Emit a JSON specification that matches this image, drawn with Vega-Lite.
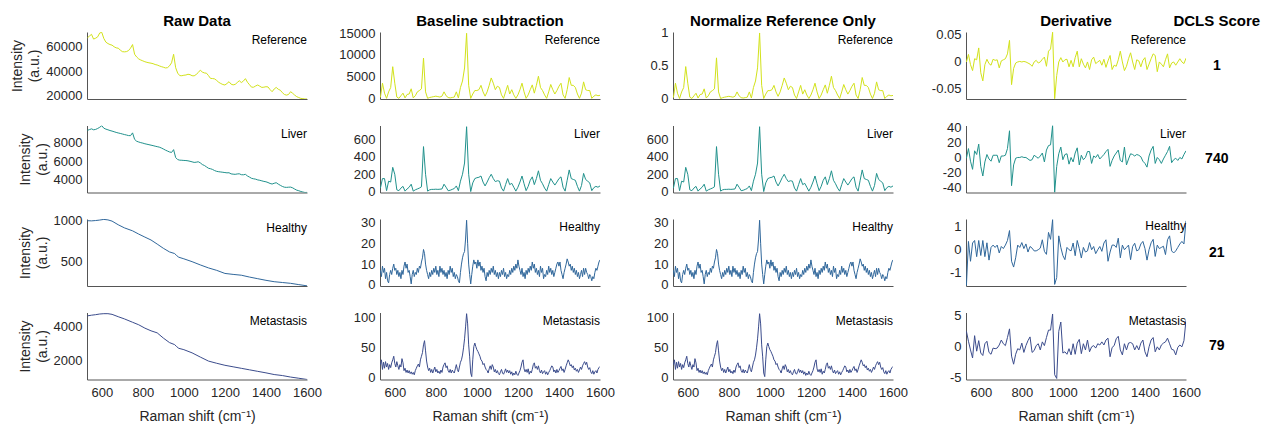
{
"$schema":"https://vega.github.io/schema/vega-lite/v6.json",
"padding":{"left":10,"top":4.5,"right":0,"bottom":0},
"autosize":{"type":"pad"},
"datasets":{
"g10":[
{"x":530,"Ra":67500,"La":9320,"Rb":200,"Rn":0.013,"Lb":40,"Rd":0,"Ld":-1,"Hd":-1.55,"Md":2.5},
{"x":540,"Ra":69000,"La":9400,"Rb":3500,"Rn":0.233,"Lb":150,"Rd":0.014,"Ld":12,"Hd":0.36,"Md":0.9},
{"x":550,"Ra":70400,"La":9480,"Rb":1200,"Rn":0.08,"Lb":150,"Rd":-0.005,"Ld":-5,"Hd":-0.5,"Md":-0.5},
{"x":560,"Ra":66500,"La":9380,"Rb":0,"Rn":0,"Lb":10,"Rd":-0.016,"Ld":-16,"Hd":0.29,"Md":-1.8},
{"x":570,"Ra":67200,"La":9420,"Rb":1500,"Rn":0.1,"Lb":120,"Rd":0.006,"Ld":9,"Hd":0.4,"Md":1.8},
{"x":580,"Ra":68300,"La":9520,"Rb":2500,"Rn":0.167,"Lb":110,"Rd":0.004,"Ld":4,"Hd":-0.3,"Md":-0.7},
{"x":590,"Ra":71500,"La":9650,"Rb":7300,"Rn":0.487,"Lb":280,"Rd":0.026,"Ld":18,"Hd":0.4,"Md":1.0},
{"x":600,"Ra":72000,"La":9820,"Rb":3500,"Rn":0.233,"Lb":200,"Rd":-0.02,"Ld":-12,"Hd":-0.25,"Md":-1.0},
{"x":610,"Ra":67000,"La":9550,"Rb":300,"Rn":0.02,"Lb":20,"Rd":-0.035,"Ld":-25,"Hd":0.4,"Md":-1.4},
{"x":620,"Ra":64000,"La":9450,"Rb":0,"Rn":0,"Lb":10,"Rd":-0.005,"Ld":-6,"Hd":-0.3,"Md":0.5},
{"x":630,"Ra":62800,"La":9380,"Rb":600,"Rn":0.04,"Lb":40,"Rd":0.005,"Ld":4,"Hd":0.3,"Md":0.9},
{"x":640,"Ra":62000,"La":9300,"Rb":1200,"Rn":0.08,"Lb":60,"Rd":-0.003,"Ld":-2,"Hd":-0.45,"Md":-0.9},
{"x":650,"Ra":61500,"La":9240,"Rb":100,"Rn":0.007,"Lb":5,"Rd":-0.006,"Ld":-5,"Hd":0.1,"Md":-1.2},
{"x":660,"Ra":60200,"La":9170,"Rb":900,"Rn":0.06,"Lb":30,"Rd":0.005,"Ld":3,"Hd":0.2,"Md":-0.2},
{"x":670,"Ra":59300,"La":9100,"Rb":1000,"Rn":0.067,"Lb":50,"Rd":0.003,"Ld":3,"Hd":0.1,"Md":-0.3},
{"x":680,"Ra":59000,"La":9040,"Rb":2200,"Rn":0.147,"Lb":85,"Rd":0.004,"Ld":3,"Hd":0.2,"Md":-0.2},
{"x":690,"Ra":57500,"La":8990,"Rb":100,"Rn":0.007,"Lb":5,"Rd":-0.011,"Ld":-7,"Hd":-0.14,"Md":0.3},
{"x":700,"Ra":56200,"La":8930,"Rb":600,"Rn":0.04,"Lb":20,"Rd":0.002,"Ld":2,"Hd":0.14,"Md":1.1},
{"x":710,"Ra":56000,"La":8870,"Rb":1500,"Rn":0.1,"Lb":30,"Rd":0.004,"Ld":2,"Hd":0.05,"Md":0.5},
{"x":720,"Ra":56200,"La":8820,"Rb":1800,"Rn":0.12,"Lb":40,"Rd":0.006,"Ld":3,"Hd":0.2,"Md":0.2},
{"x":730,"Ra":57000,"La":8760,"Rb":2200,"Rn":0.147,"Lb":55,"Rd":0.015,"Ld":12,"Hd":0.4,"Md":1.5},
{"x":740,"Ra":59000,"La":8750,"Rb":9300,"Rn":0.62,"Lb":520,"Rd":0.04,"Ld":36,"Hd":0.83,"Md":2.9},
{"x":750,"Ra":62000,"La":9050,"Rb":1500,"Rn":0.1,"Lb":200,"Rd":-0.042,"Ld":-38,"Hd":-0.5,"Md":-1.5},
{"x":760,"Ra":54000,"La":8350,"Rb":0,"Rn":0,"Lb":5,"Rd":-0.012,"Ld":-10,"Hd":-0.75,"Md":-2.8},
{"x":770,"Ra":51800,"La":8150,"Rb":200,"Rn":0.013,"Lb":20,"Rd":-0.002,"Ld":-1,"Hd":-0.35,"Md":-1.2},
{"x":780,"Ra":50200,"La":8070,"Rb":300,"Rn":0.02,"Lb":25,"Rd":0,"Ld":0,"Hd":0.2,"Md":-0.3},
{"x":790,"Ra":49300,"La":8000,"Rb":400,"Rn":0.027,"Lb":25,"Rd":0.001,"Ld":0,"Hd":0.1,"Md":-0.5},
{"x":800,"Ra":48600,"La":7950,"Rb":500,"Rn":0.033,"Lb":27,"Rd":0,"Ld":1,"Hd":0.31,"Md":0.6},
{"x":810,"Ra":47900,"La":7880,"Rb":400,"Rn":0.027,"Lb":25,"Rd":0.001,"Ld":0,"Hd":0.05,"Md":-0.9},
{"x":820,"Ra":47400,"La":7830,"Rb":300,"Rn":0.02,"Lb":27,"Rd":0,"Ld":0,"Hd":0.25,"Md":0.2},
{"x":830,"Ra":47000,"La":7780,"Rb":500,"Rn":0.033,"Lb":30,"Rd":-0.002,"Ld":-2,"Hd":-0.1,"Md":1.0},
{"x":840,"Ra":46700,"La":7730,"Rb":1500,"Rn":0.1,"Lb":85,"Rd":-0.004,"Ld":-4,"Hd":0.14,"Md":1.6},
{"x":850,"Ra":46300,"La":7680,"Rb":600,"Rn":0.04,"Lb":50,"Rd":-0.008,"Ld":-3,"Hd":0.07,"Md":-0.9},
{"x":860,"Ra":45600,"La":7620,"Rb":200,"Rn":0.013,"Lb":10,"Rd":0,"Ld":3,"Hd":-0.05,"Md":-0.6},
{"x":870,"Ra":45200,"La":7570,"Rb":100,"Rn":0.007,"Lb":15,"Rd":0.003,"Ld":1,"Hd":-0.05,"Md":0.2},
{"x":880,"Ra":44500,"La":7520,"Rb":200,"Rn":0.013,"Lb":25,"Rd":-0.002,"Ld":-1,"Hd":0,"Md":0.5},
{"x":890,"Ra":43900,"La":7430,"Rb":300,"Rn":0.02,"Lb":35,"Rd":0,"Ld":2,"Hd":0.07,"Md":-0.5},
{"x":900,"Ra":43400,"La":7320,"Rb":1500,"Rn":0.1,"Lb":65,"Rd":0.005,"Ld":6,"Hd":0.43,"Md":0.8},
{"x":910,"Ra":42800,"La":7200,"Rb":100,"Rn":0.007,"Lb":10,"Rd":0.009,"Ld":-6,"Hd":-0.07,"Md":0.2},
{"x":920,"Ra":43000,"La":7100,"Rb":2500,"Rn":0.167,"Lb":120,"Rd":-0.008,"Ld":10,"Hd":-0.2,"Md":1.5},
{"x":930,"Ra":44500,"La":7000,"Rb":4000,"Rn":0.267,"Lb":200,"Rd":0.02,"Ld":16,"Hd":0.75,"Md":2.7},
{"x":940,"Ra":47000,"La":6950,"Rb":7000,"Rn":0.467,"Lb":330,"Rd":0.024,"Ld":17,"Hd":0.45,"Md":2.7},
{"x":950,"Ra":54000,"La":7250,"Rb":15000,"Rn":1,"Lb":750,"Rd":0.055,"Ld":43,"Hd":1.3,"Md":5.3},
{"x":960,"Ra":43000,"La":6400,"Rb":3000,"Rn":0.2,"Lb":200,"Rd":-0.068,"Ld":-47,"Hd":-1.5,"Md":-4.5},
{"x":970,"Ra":38500,"La":6180,"Rb":0,"Rn":0,"Lb":0,"Rd":-0.025,"Ld":-12,"Hd":-1.2,"Md":-5.1},
{"x":980,"Ra":36500,"La":6120,"Rb":1000,"Rn":0.067,"Lb":100,"Rd":0,"Ld":5,"Hd":0.6,"Md":2.5},
{"x":990,"Ra":36400,"La":6110,"Rb":1800,"Rn":0.12,"Lb":150,"Rd":0.008,"Ld":14,"Hd":0.1,"Md":4.0},
{"x":1000,"Ra":36800,"La":6090,"Rb":1800,"Rn":0.12,"Lb":160,"Rd":0,"Ld":-3,"Hd":-0.25,"Md":-1.0},
{"x":1010,"Ra":37000,"La":6080,"Rb":2000,"Rn":0.133,"Lb":165,"Rd":0.004,"Ld":4,"Hd":-0.43,"Md":-0.8},
{"x":1020,"Ra":37600,"La":6050,"Rb":3000,"Rn":0.2,"Lb":180,"Rd":0.005,"Ld":5,"Hd":0.1,"Md":-1.2},
{"x":1030,"Ra":37300,"La":6000,"Rb":1500,"Rn":0.1,"Lb":110,"Rd":-0.009,"Ld":-9,"Hd":0,"Md":-0.3},
{"x":1040,"Ra":36400,"La":5940,"Rb":500,"Rn":0.033,"Lb":65,"Rd":0.003,"Ld":0,"Hd":-0.05,"Md":-1.3},
{"x":1050,"Ra":36300,"La":5880,"Rb":1500,"Rn":0.1,"Lb":110,"Rd":-0.009,"Ld":-6,"Hd":0.29,"Md":0.5},
{"x":1060,"Ra":37400,"La":5900,"Rb":3000,"Rn":0.2,"Lb":160,"Rd":0.008,"Ld":6,"Hd":-0.26,"Md":-1.2},
{"x":1070,"Ra":39000,"La":5950,"Rb":4700,"Rn":0.313,"Lb":200,"Rd":0.02,"Ld":13,"Hd":0.4,"Md":0.6},
{"x":1080,"Ra":41000,"La":5830,"Rb":3500,"Rn":0.233,"Lb":150,"Rd":-0.009,"Ld":-10,"Hd":0.05,"Md":1.2},
{"x":1090,"Ra":39400,"La":5650,"Rb":2000,"Rn":0.133,"Lb":115,"Rd":0.006,"Ld":3,"Hd":-0.36,"Md":-1.1},
{"x":1100,"Ra":38700,"La":5550,"Rb":2800,"Rn":0.187,"Lb":125,"Rd":-0.004,"Ld":-3,"Hd":0.1,"Md":0.5},
{"x":1110,"Ra":38500,"La":5400,"Rb":2500,"Rn":0.167,"Lb":120,"Rd":-0.011,"Ld":0,"Hd":-0.1,"Md":-0.5},
{"x":1120,"Ra":36500,"La":5250,"Rb":800,"Rn":0.053,"Lb":40,"Rd":0,"Ld":8,"Hd":-0.05,"Md":1.1},
{"x":1130,"Ra":34200,"La":5200,"Rb":0,"Rn":0,"Lb":5,"Rd":-0.014,"Ld":8,"Hd":0.31,"Md":-0.8},
{"x":1140,"Ra":34100,"La":5120,"Rb":1500,"Rn":0.1,"Lb":80,"Rd":0.004,"Ld":-8,"Hd":0,"Md":0},
{"x":1150,"Ra":33800,"La":5000,"Rb":3000,"Rn":0.2,"Lb":150,"Rd":0.009,"Ld":2,"Hd":0.14,"Md":0.2},
{"x":1160,"Ra":32500,"La":4920,"Rb":1000,"Rn":0.067,"Lb":80,"Rd":-0.003,"Ld":0,"Hd":-0.17,"Md":-0.2},
{"x":1170,"Ra":31000,"La":4880,"Rb":2000,"Rn":0.133,"Lb":95,"Rd":0,"Ld":4,"Hd":0,"Md":0.5},
{"x":1180,"Ra":30000,"La":4850,"Rb":800,"Rn":0.053,"Lb":50,"Rd":0.003,"Ld":-2,"Hd":0.14,"Md":0.3},
{"x":1190,"Ra":29200,"La":4820,"Rb":0,"Rn":0,"Lb":5,"Rd":-0.006,"Ld":1,"Hd":-0.07,"Md":0.8},
{"x":1200,"Ra":28800,"La":4790,"Rb":800,"Rn":0.053,"Lb":50,"Rd":0.005,"Ld":4,"Hd":0.29,"Md":0.3},
{"x":1210,"Ra":30000,"La":4760,"Rb":2000,"Rn":0.133,"Lb":110,"Rd":-0.01,"Ld":8,"Hd":0.43,"Md":1.1},
{"x":1220,"Ra":31500,"La":4770,"Rb":3500,"Rn":0.233,"Lb":180,"Rd":0.002,"Ld":11,"Hd":-0.5,"Md":1.4},
{"x":1230,"Ra":29500,"La":4650,"Rb":1500,"Rn":0.1,"Lb":90,"Rd":0.012,"Ld":-12,"Hd":-0.1,"Md":-1.6},
{"x":1240,"Ra":28900,"La":4620,"Rb":0,"Rn":0,"Lb":10,"Rd":-0.014,"Ld":-4,"Hd":0.2,"Md":-0.1},
{"x":1250,"Ra":29300,"La":4600,"Rb":800,"Rn":0.053,"Lb":60,"Rd":-0.006,"Ld":2,"Hd":0.2,"Md":0.2},
{"x":1260,"Ra":30800,"La":4640,"Rb":2000,"Rn":0.133,"Lb":130,"Rd":-0.008,"Ld":6,"Hd":0.1,"Md":1.3},
{"x":1270,"Ra":32300,"La":4660,"Rb":3100,"Rn":0.207,"Lb":170,"Rd":0.004,"Ld":10,"Hd":0.5,"Md":1.7},
{"x":1280,"Ra":30800,"La":4560,"Rb":1200,"Rn":0.08,"Lb":80,"Rd":0.02,"Ld":-4,"Hd":-0.35,"Md":-0.5},
{"x":1290,"Ra":32000,"La":4550,"Rb":3000,"Rn":0.2,"Lb":150,"Rd":0,"Ld":-6,"Hd":0.2,"Md":-1.3},
{"x":1300,"Ra":34000,"La":4600,"Rb":5100,"Rn":0.34,"Lb":240,"Rd":-0.016,"Ld":14,"Hd":0,"Md":0.5},
{"x":1310,"Ra":31000,"La":4420,"Rb":2500,"Rn":0.167,"Lb":130,"Rd":-0.008,"Ld":-10,"Hd":0.1,"Md":-0.5},
{"x":1320,"Ra":29000,"La":4300,"Rb":1800,"Rn":0.12,"Lb":90,"Rd":0.006,"Ld":-2,"Hd":0.2,"Md":0.6},
{"x":1330,"Ra":27000,"La":4170,"Rb":800,"Rn":0.053,"Lb":40,"Rd":0.017,"Ld":5,"Hd":-0.43,"Md":0.7},
{"x":1340,"Ra":27000,"La":4120,"Rb":0,"Rn":0,"Lb":5,"Rd":0,"Ld":4,"Hd":0.14,"Md":0.5},
{"x":1350,"Ra":28000,"La":4080,"Rb":1500,"Rn":0.1,"Lb":80,"Rd":-0.014,"Ld":2,"Hd":0.28,"Md":-0.5},
{"x":1360,"Ra":28800,"La":4000,"Rb":3200,"Rn":0.213,"Lb":150,"Rd":0.004,"Ld":4,"Hd":-0.05,"Md":0.2},
{"x":1370,"Ra":27800,"La":3960,"Rb":2000,"Rn":0.133,"Lb":110,"Rd":0.002,"Ld":3,"Hd":0,"Md":-0.5},
{"x":1380,"Ra":26800,"La":3900,"Rb":1000,"Rn":0.067,"Lb":75,"Rd":-0.009,"Ld":1,"Hd":0.25,"Md":0.6},
{"x":1390,"Ra":27000,"La":3840,"Rb":1800,"Rn":0.12,"Lb":110,"Rd":0.003,"Ld":-5,"Hd":0.36,"Md":1.1},
{"x":1400,"Ra":27400,"La":3800,"Rb":2800,"Rn":0.187,"Lb":150,"Rd":0.008,"Ld":-8,"Hd":0.05,"Md":-0.8},
{"x":1410,"Ra":27200,"La":3720,"Rb":3500,"Rn":0.233,"Lb":170,"Rd":-0.014,"Ld":-13,"Hd":-0.45,"Md":-1.6},
{"x":1420,"Ra":25000,"La":3620,"Rb":800,"Rn":0.053,"Lb":50,"Rd":-0.004,"Ld":2,"Hd":0,"Md":0},
{"x":1430,"Ra":23300,"La":3560,"Rb":0,"Rn":0,"Lb":5,"Rd":0.006,"Ld":10,"Hd":0.3,"Md":1.1},
{"x":1440,"Ra":25500,"La":3640,"Rb":2000,"Rn":0.133,"Lb":130,"Rd":0.015,"Ld":15,"Hd":0.45,"Md":1.5},
{"x":1450,"Ra":26800,"La":3700,"Rb":4800,"Rn":0.32,"Lb":250,"Rd":0.012,"Ld":-8,"Hd":-0.29,"Md":-0.8},
{"x":1460,"Ra":25300,"La":3550,"Rb":3000,"Rn":0.2,"Lb":150,"Rd":-0.018,"Ld":0,"Hd":0.2,"Md":0},
{"x":1470,"Ra":24500,"La":3420,"Rb":3000,"Rn":0.2,"Lb":140,"Rd":0,"Ld":-3,"Hd":0.05,"Md":-0.5},
{"x":1480,"Ra":22500,"La":3300,"Rb":2500,"Rn":0.167,"Lb":130,"Rd":-0.004,"Ld":-8,"Hd":0.1,"Md":0.3},
{"x":1490,"Ra":21000,"La":3220,"Rb":1000,"Rn":0.067,"Lb":60,"Rd":-0.009,"Ld":-2,"Hd":0.15,"Md":0.6},
{"x":1500,"Ra":20500,"La":3200,"Rb":0,"Rn":0,"Lb":5,"Rd":0.004,"Ld":3,"Hd":-0.21,"Md":0.8},
{"x":1510,"Ra":21000,"La":3220,"Rb":1200,"Rn":0.08,"Lb":70,"Rd":0.015,"Ld":8,"Hd":0.43,"Md":1.4},
{"x":1520,"Ra":23300,"La":3230,"Rb":3800,"Rn":0.253,"Lb":210,"Rd":-0.011,"Ld":15,"Hd":0.6,"Md":0.5},
{"x":1530,"Ra":22000,"La":3150,"Rb":2000,"Rn":0.133,"Lb":140,"Rd":-0.002,"Ld":-7,"Hd":-0.05,"Md":-0.4},
{"x":1540,"Ra":20500,"La":3020,"Rb":1800,"Rn":0.12,"Lb":120,"Rd":0,"Ld":-3,"Hd":-0.14,"Md":-0.5},
{"x":1550,"Ra":19200,"La":2900,"Rb":1800,"Rn":0.12,"Lb":100,"Rd":-0.006,"Ld":-1,"Hd":-0.05,"Md":-1.3},
{"x":1560,"Ra":18500,"La":2840,"Rb":0,"Rn":0,"Lb":10,"Rd":0,"Ld":-4,"Hd":0.1,"Md":-0.1},
{"x":1570,"Ra":17800,"La":2760,"Rb":500,"Rn":0.033,"Lb":45,"Rd":0.006,"Ld":0,"Hd":0.25,"Md":0.3},
{"x":1580,"Ra":17600,"La":2700,"Rb":800,"Rn":0.053,"Lb":60,"Rd":0,"Ld":-2,"Hd":0.36,"Md":0},
{"x":1590,"Ra":17300,"La":2650,"Rb":600,"Rn":0.04,"Lb":50,"Rd":-0.003,"Ld":4,"Hd":0.25,"Md":1.0},
{"x":1600,"Ra":17300,"La":2660,"Rb":700,"Rn":0.047,"Lb":65,"Rd":0.007,"Ld":9,"Hd":1.25,"Md":4.3}
],
"g5":[
{"x":530,"Hb":7,"Mb":22},{"x":535,"Hb":4,"Mb":30},{"x":540,"Hb":9,"Mb":14},{"x":545,"Hb":6,"Mb":26},{"x":550,"Hb":8,"Mb":16},{"x":555,"Hb":3,"Mb":27},{"x":560,"Hb":6,"Mb":18},{"x":565,"Hb":2,"Mb":24},{"x":570,"Hb":1,"Mb":14},{"x":575,"Hb":5,"Mb":22},
{"x":580,"Hb":7,"Mb":17},{"x":585,"Hb":5,"Mb":25},{"x":590,"Hb":8,"Mb":30},{"x":595,"Hb":10,"Mb":36},{"x":600,"Hb":7,"Mb":24},{"x":605,"Hb":8,"Mb":18},{"x":610,"Hb":5,"Mb":27},{"x":615,"Hb":7,"Mb":20},{"x":620,"Hb":4,"Mb":14},{"x":625,"Hb":6,"Mb":22},
{"x":630,"Hb":3,"Mb":18},{"x":635,"Hb":7,"Mb":32},{"x":640,"Hb":5,"Mb":25},{"x":645,"Hb":9,"Mb":12},{"x":650,"Hb":11,"Mb":16},{"x":655,"Hb":8,"Mb":9},{"x":660,"Hb":10,"Mb":13},{"x":665,"Hb":6,"Mb":8},{"x":670,"Hb":7,"Mb":12},{"x":675,"Hb":4,"Mb":7},
{"x":680,"Hb":0.5,"Mb":10},{"x":685,"Hb":5,"Mb":6},{"x":690,"Hb":7,"Mb":9},{"x":695,"Hb":4,"Mb":5},{"x":700,"Hb":6,"Mb":12},{"x":705,"Hb":5,"Mb":16},{"x":710,"Hb":8,"Mb":20},{"x":715,"Hb":6,"Mb":23},{"x":720,"Hb":9,"Mb":18},{"x":725,"Hb":8,"Mb":30},
{"x":730,"Hb":11,"Mb":36},{"x":735,"Hb":13,"Mb":42},{"x":740,"Hb":17,"Mb":55},{"x":745,"Hb":15,"Mb":62},{"x":750,"Hb":10,"Mb":45},{"x":755,"Hb":7,"Mb":28},{"x":760,"Hb":5,"Mb":18},{"x":765,"Hb":3,"Mb":12},{"x":770,"Hb":6,"Mb":16},{"x":775,"Hb":4,"Mb":9},
{"x":780,"Hb":7,"Mb":14},{"x":785,"Hb":5,"Mb":8},{"x":790,"Hb":8,"Mb":13},{"x":795,"Hb":6,"Mb":18},{"x":800,"Hb":9,"Mb":10},{"x":805,"Hb":5,"Mb":14},{"x":810,"Hb":7,"Mb":8},{"x":815,"Hb":4,"Mb":11},{"x":820,"Hb":9,"Mb":7},{"x":825,"Hb":6,"Mb":13},
{"x":830,"Hb":8,"Mb":9},{"x":835,"Hb":5,"Mb":18},{"x":840,"Hb":7,"Mb":22},{"x":845,"Hb":4,"Mb":25},{"x":850,"Hb":6,"Mb":17},{"x":855,"Hb":3,"Mb":20},{"x":860,"Hb":7,"Mb":12},{"x":865,"Hb":5,"Mb":9},{"x":870,"Hb":9,"Mb":14},{"x":875,"Hb":6,"Mb":8},
{"x":880,"Hb":8,"Mb":13},{"x":885,"Hb":4,"Mb":10},{"x":890,"Hb":6,"Mb":8},{"x":895,"Hb":3,"Mb":15},{"x":900,"Hb":5,"Mb":22},{"x":905,"Hb":4,"Mb":14},{"x":910,"Hb":2,"Mb":10},{"x":915,"Hb":1,"Mb":18},{"x":920,"Hb":6,"Mb":26},{"x":925,"Hb":10,"Mb":30},
{"x":930,"Hb":13,"Mb":38},{"x":935,"Hb":15,"Mb":50},{"x":940,"Hb":16,"Mb":65},{"x":945,"Hb":22,"Mb":85},{"x":950,"Hb":31,"Mb":107},{"x":955,"Hb":20,"Mb":90},{"x":960,"Hb":10,"Mb":55},{"x":965,"Hb":5,"Mb":35},{"x":970,"Hb":0.5,"Mb":8},{"x":975,"Hb":5,"Mb":2},
{"x":980,"Hb":9,"Mb":30},{"x":985,"Hb":12,"Mb":52},{"x":990,"Hb":10,"Mb":58},{"x":995,"Hb":11,"Mb":52},{"x":1000,"Hb":8,"Mb":47},{"x":1005,"Hb":12,"Mb":44},{"x":1010,"Hb":9,"Mb":40},{"x":1015,"Hb":11,"Mb":36},{"x":1020,"Hb":7,"Mb":30},{"x":1025,"Hb":9,"Mb":28},
{"x":1030,"Hb":6,"Mb":22},{"x":1035,"Hb":8,"Mb":24},{"x":1040,"Hb":4,"Mb":18},{"x":1045,"Hb":2,"Mb":14},{"x":1050,"Hb":6,"Mb":12},{"x":1055,"Hb":4,"Mb":8},{"x":1060,"Hb":7,"Mb":15},{"x":1065,"Hb":5,"Mb":20},{"x":1070,"Hb":8,"Mb":14},{"x":1075,"Hb":6,"Mb":22},
{"x":1080,"Hb":9,"Mb":18},{"x":1085,"Hb":5,"Mb":10},{"x":1090,"Hb":7,"Mb":14},{"x":1095,"Hb":4,"Mb":8},{"x":1100,"Hb":6,"Mb":12},{"x":1105,"Hb":3,"Mb":7},{"x":1110,"Hb":6,"Mb":5},{"x":1115,"Hb":4,"Mb":10},{"x":1120,"Hb":7,"Mb":14},{"x":1125,"Hb":5,"Mb":8},
{"x":1130,"Hb":8,"Mb":6},{"x":1135,"Hb":4,"Mb":10},{"x":1140,"Hb":6,"Mb":15},{"x":1145,"Hb":3,"Mb":9},{"x":1150,"Hb":5,"Mb":13},{"x":1155,"Hb":4,"Mb":8},{"x":1160,"Hb":7,"Mb":12},{"x":1165,"Hb":5,"Mb":6},{"x":1170,"Hb":8,"Mb":10},{"x":1175,"Hb":6,"Mb":4},
{"x":1180,"Hb":9,"Mb":8},{"x":1185,"Hb":7,"Mb":5},{"x":1190,"Hb":10,"Mb":11},{"x":1195,"Hb":8,"Mb":6},{"x":1200,"Hb":12,"Mb":4},{"x":1205,"Hb":9,"Mb":8},{"x":1210,"Hb":7,"Mb":12},{"x":1215,"Hb":5,"Mb":18},{"x":1220,"Hb":8,"Mb":26},{"x":1225,"Hb":4,"Mb":30},
{"x":1230,"Hb":6,"Mb":15},{"x":1235,"Hb":3,"Mb":10},{"x":1240,"Hb":7,"Mb":14},{"x":1245,"Hb":5,"Mb":9},{"x":1250,"Hb":8,"Mb":15},{"x":1255,"Hb":6,"Mb":6},{"x":1260,"Hb":9,"Mb":11},{"x":1265,"Hb":7,"Mb":8},{"x":1270,"Hb":11,"Mb":14},{"x":1275,"Hb":8,"Mb":22},
{"x":1280,"Hb":10,"Mb":25},{"x":1285,"Hb":6,"Mb":16},{"x":1290,"Hb":8,"Mb":19},{"x":1295,"Hb":5,"Mb":14},{"x":1300,"Hb":7,"Mb":20},{"x":1305,"Hb":4,"Mb":12},{"x":1310,"Hb":9,"Mb":8},{"x":1315,"Hb":6,"Mb":13},{"x":1320,"Hb":8,"Mb":7},{"x":1325,"Hb":3,"Mb":10},
{"x":1330,"Hb":5,"Mb":12},{"x":1335,"Hb":4,"Mb":6},{"x":1340,"Hb":7,"Mb":10},{"x":1345,"Hb":5,"Mb":5},{"x":1350,"Hb":9,"Mb":9},{"x":1355,"Hb":6,"Mb":12},{"x":1360,"Hb":8,"Mb":16},{"x":1365,"Hb":5,"Mb":20},{"x":1370,"Hb":7,"Mb":18},{"x":1375,"Hb":4,"Mb":10},
{"x":1380,"Hb":6,"Mb":13},{"x":1385,"Hb":8,"Mb":8},{"x":1390,"Hb":10,"Mb":14},{"x":1395,"Hb":11,"Mb":9},{"x":1400,"Hb":9,"Mb":12},{"x":1405,"Hb":11,"Mb":16},{"x":1410,"Hb":7,"Mb":19},{"x":1415,"Hb":5,"Mb":12},{"x":1420,"Hb":3,"Mb":15},{"x":1425,"Hb":6,"Mb":9},
{"x":1430,"Hb":8,"Mb":14},{"x":1435,"Hb":10,"Mb":20},{"x":1440,"Hb":12.5,"Mb":25},{"x":1445,"Hb":11,"Mb":30},{"x":1450,"Hb":9,"Mb":26},{"x":1455,"Hb":10,"Mb":20},{"x":1460,"Hb":7,"Mb":22},{"x":1465,"Hb":9,"Mb":17},{"x":1470,"Hb":6,"Mb":20},{"x":1475,"Hb":8,"Mb":13},
{"x":1480,"Hb":5,"Mb":16},{"x":1485,"Hb":7,"Mb":11},{"x":1490,"Hb":4,"Mb":14},{"x":1495,"Hb":6,"Mb":9},{"x":1500,"Hb":3,"Mb":13},{"x":1505,"Hb":5,"Mb":18},{"x":1510,"Hb":7,"Mb":14},{"x":1515,"Hb":4,"Mb":20},{"x":1520,"Hb":8,"Mb":24},{"x":1525,"Hb":5,"Mb":27},
{"x":1530,"Hb":8,"Mb":22},{"x":1535,"Hb":6,"Mb":26},{"x":1540,"Hb":5,"Mb":18},{"x":1545,"Hb":3,"Mb":14},{"x":1550,"Hb":5,"Mb":17},{"x":1555,"Hb":4,"Mb":10},{"x":1560,"Hb":2,"Mb":7},{"x":1565,"Hb":4,"Mb":12},{"x":1570,"Hb":3,"Mb":6},{"x":1575,"Hb":6,"Mb":10},
{"x":1580,"Hb":8,"Mb":12},{"x":1585,"Hb":7,"Mb":8},{"x":1590,"Hb":9,"Mb":14},{"x":1595,"Hb":11,"Mb":17},{"x":1600,"Hb":12,"Mb":19}
],
"rhm":[
{"x":530,"Ha":1000,"Ma":4650},{"x":550,"Ha":998,"Ma":4690},{"x":570,"Ha":1002,"Ma":4720},{"x":590,"Ha":1008,"Ma":4760},{"x":610,"Ha":1016,"Ma":4780},{"x":630,"Ha":1010,"Ma":4780},{"x":650,"Ha":995,"Ma":4740},{"x":680,"Ha":950,"Ma":4600},{"x":710,"Ha":912,"Ma":4470},{"x":750,"Ha":875,"Ma":4270},
{"x":780,"Ha":835,"Ma":4120},{"x":810,"Ha":798,"Ma":3920},{"x":840,"Ha":762,"Ma":3760},{"x":870,"Ha":712,"Ma":3640},{"x":900,"Ha":660,"Ma":3330},{"x":930,"Ha":615,"Ma":3060},{"x":955,"Ha":595,"Ma":2940},{"x":965,"Ha":570,"Ma":2820},{"x":975,"Ha":550,"Ma":2720},{"x":1000,"Ha":530,"Ma":2640},
{"x":1040,"Ha":495,"Ma":2450},{"x":1080,"Ha":455,"Ma":2200},{"x":1120,"Ha":418,"Ma":1960},{"x":1160,"Ha":388,"Ma":1830},{"x":1200,"Ha":350,"Ma":1710},{"x":1240,"Ha":338,"Ma":1620},{"x":1280,"Ha":328,"Ma":1530},{"x":1320,"Ha":305,"Ma":1440},{"x":1360,"Ha":285,"Ma":1350},{"x":1400,"Ha":265,"Ma":1260},
{"x":1440,"Ha":248,"Ma":1160},{"x":1480,"Ha":238,"Ma":1100},{"x":1520,"Ha":228,"Ma":1010},{"x":1560,"Ha":212,"Ma":940},{"x":1600,"Ha":197,"Ma":866}
]
},
"concat":[
{"width":220,"height":1,"data":{"values":[{"t":"Raw Data"}]},"mark":{"type":"text","fontSize":15,"fontWeight":"bold","dy":15.5,"color":"#000000"},"encoding":{"text":{"field":"t"}}},
{"width":220,"height":1,"data":{"values":[{"t":"Baseline subtraction"}]},"mark":{"type":"text","fontSize":15,"fontWeight":"bold","dy":15.5,"color":"#000000"},"encoding":{"text":{"field":"t"}}},
{"width":220,"height":1,"data":{"values":[{"t":"Normalize Reference Only"}]},"mark":{"type":"text","fontSize":15,"fontWeight":"bold","dy":15.5,"color":"#000000"},"encoding":{"text":{"field":"t"}}},
{"width":220,"height":1,"layer":[
 {"data":{"values":[{"t":"Derivative"}]},"mark":{"type":"text","fontSize":15,"fontWeight":"bold","dy":15.5,"color":"#000000"},"encoding":{"text":{"field":"t"}}},
 {"data":{"values":[{"t":"DCLS Score"}]},"mark":{"type":"text","fontSize":15,"fontWeight":"bold","dy":15.5,"color":"#000000"},"encoding":{"text":{"field":"t"},"x":{"datum":1750,"type":"quantitative","scale":{"domain":[528,1600],"nice":false,"zero":false},"axis":null}}}
]},

{"width":220,"height":67,"data":{"name":"g10"},"title":{"text":"Reference","offset":-15},"mark":{"type":"line","color":"#d2e21b","strokeWidth":1,"clip":true},
"encoding":{"x":{"field":"x","type":"quantitative","scale":{"domain":[528,1600],"nice":false,"zero":false},"axis":{"labels":false,"title":null}},
"y":{"field":"Ra","type":"quantitative","scale":{"domain":[17300,72300],"nice":false,"zero":false},"axis":{"values":[20000,40000,60000],"format":"d","title":["Intensity","(a.u.)"]}}}},
{"width":220,"height":67,"data":{"name":"g10"},"title":{"text":"Reference","offset":-20},"mark":{"type":"line","color":"#d2e21b","strokeWidth":1,"clip":true},
"encoding":{"x":{"field":"x","type":"quantitative","scale":{"domain":[528,1600],"nice":false,"zero":false},"axis":{"labels":false,"title":null}},
"y":{"field":"Rb","type":"quantitative","scale":{"domain":[-150,15300],"nice":false,"zero":false},"axis":{"values":[0,5000,10000,15000],"format":"d","title":null}}}},
{"width":220,"height":67,"data":{"name":"g10"},"title":{"text":"Reference","offset":-20},"mark":{"type":"line","color":"#d2e21b","strokeWidth":1,"clip":true},
"encoding":{"x":{"field":"x","type":"quantitative","scale":{"domain":[528,1600],"nice":false,"zero":false},"axis":{"labels":false,"title":null}},
"y":{"field":"Rn","type":"quantitative","scale":{"domain":[-0.008,1.015],"nice":false,"zero":false},"axis":{"values":[0,0.5,1],"format":"~g","title":null}}}},
{"width":220,"height":67,"data":{"name":"g10"},"title":{"text":"Reference","offset":-18.5},
"layer":[
{"mark":{"type":"line","color":"#d2e21b","strokeWidth":1,"clip":true},
"encoding":{"x":{"field":"x","type":"quantitative","scale":{"domain":[528,1600],"nice":false,"zero":false},"axis":{"labels":false,"title":null}},
"y":{"field":"Rd","type":"quantitative","scale":{"domain":[-0.0686,0.0555],"nice":false,"zero":false},"axis":{"values":[-0.05,0,0.05],"format":"~g","title":null}}}},
{"data":{"values":[{"score":1}]},"mark":{"type":"text","fontSize":14,"fontWeight":"bold","color":"#000000"},"encoding":{"text":{"field":"score","type":"quantitative","format":"d"},"x":{"datum":1750,"type":"quantitative","axis":{"labels":false,"title":null}}}}
]},

{"width":220,"height":67,"data":{"name":"g10"},"title":{"text":"Liver","offset":-15},"mark":{"type":"line","color":"#21918c","strokeWidth":1,"clip":true},
"encoding":{"x":{"field":"x","type":"quantitative","scale":{"domain":[528,1600],"nice":false,"zero":false},"axis":{"labels":false,"title":null}},
"y":{"field":"La","type":"quantitative","scale":{"domain":[2650,9840],"nice":false,"zero":false},"axis":{"values":[4000,6000,8000],"format":"d","title":["Intensity","(a.u.)"]}}}},
{"width":220,"height":67,"data":{"name":"g10"},"title":{"text":"Liver","offset":-15},"mark":{"type":"line","color":"#21918c","strokeWidth":1,"clip":true},
"encoding":{"x":{"field":"x","type":"quantitative","scale":{"domain":[528,1600],"nice":false,"zero":false},"axis":{"labels":false,"title":null}},
"y":{"field":"Lb","type":"quantitative","scale":{"domain":[-11,764],"nice":false,"zero":false},"axis":{"values":[0,200,400,600],"format":"d","title":null}}}},
{"width":220,"height":67,"data":{"name":"g10"},"title":{"text":"Liver","offset":-15},"mark":{"type":"line","color":"#21918c","strokeWidth":1,"clip":true},
"encoding":{"x":{"field":"x","type":"quantitative","scale":{"domain":[528,1600],"nice":false,"zero":false},"axis":{"labels":false,"title":null}},
"y":{"field":"Lb","type":"quantitative","scale":{"domain":[-11,764],"nice":false,"zero":false},"axis":{"values":[0,200,400,600],"format":"d","title":null}}}},
{"width":220,"height":67,"data":{"name":"g10"},"title":{"text":"Liver","offset":-19},
"layer":[
{"mark":{"type":"line","color":"#21918c","strokeWidth":1,"clip":true},
"encoding":{"x":{"field":"x","type":"quantitative","scale":{"domain":[528,1600],"nice":false,"zero":false},"axis":{"labels":false,"title":null}},
"y":{"field":"Ld","type":"quantitative","scale":{"domain":[-47.2,43.1],"nice":false,"zero":false},"axis":{"values":[-40,-20,0,20,40],"format":"d","title":null}}}},
{"data":{"values":[{"score":740}]},"mark":{"type":"text","fontSize":14,"fontWeight":"bold","color":"#000000"},"encoding":{"text":{"field":"score","type":"quantitative","format":"d"},"x":{"datum":1750,"type":"quantitative","axis":{"labels":false,"title":null}}}}
]},

{"width":220,"height":67,"data":{"name":"rhm"},"title":{"text":"Healthy","offset":-20},"mark":{"type":"line","color":"#30679b","strokeWidth":1,"clip":true},
"encoding":{"x":{"field":"x","type":"quantitative","scale":{"domain":[528,1600],"nice":false,"zero":false},"axis":{"labels":false,"title":null}},
"y":{"field":"Ha","type":"quantitative","scale":{"domain":[195,1021],"nice":false,"zero":false},"axis":{"values":[500,1000],"format":"d","title":["Intensity","(a.u.)"]}}}},
{"width":220,"height":67,"data":{"name":"g5"},"title":{"text":"Healthy","offset":-18},"mark":{"type":"line","color":"#30679b","strokeWidth":1,"clip":true},
"encoding":{"x":{"field":"x","type":"quantitative","scale":{"domain":[528,1600],"nice":false,"zero":false},"axis":{"labels":false,"title":null}},
"y":{"field":"Hb","type":"quantitative","scale":{"domain":[-0.5,31.6],"nice":false,"zero":false},"axis":{"values":[0,10,20,30],"format":"d","title":null}}}},
{"width":220,"height":67,"data":{"name":"g5"},"title":{"text":"Healthy","offset":-18},"mark":{"type":"line","color":"#30679b","strokeWidth":1,"clip":true},
"encoding":{"x":{"field":"x","type":"quantitative","scale":{"domain":[528,1600],"nice":false,"zero":false},"axis":{"labels":false,"title":null}},
"y":{"field":"Hb","type":"quantitative","scale":{"domain":[-0.5,31.6],"nice":false,"zero":false},"axis":{"values":[0,10,20,30],"format":"d","title":null}}}},
{"width":220,"height":67,"data":{"name":"g10"},"title":{"text":"Healthy","offset":-14},
"layer":[
{"mark":{"type":"line","color":"#30679b","strokeWidth":1,"clip":true},
"encoding":{"x":{"field":"x","type":"quantitative","scale":{"domain":[528,1600],"nice":false,"zero":false},"axis":{"labels":false,"title":null}},
"y":{"field":"Hd","type":"quantitative","scale":{"domain":[-1.57,1.33],"nice":false,"zero":false},"axis":{"values":[-1,0,1],"format":"~g","title":null}}}},
{"data":{"values":[{"score":21}]},"mark":{"type":"text","fontSize":14,"fontWeight":"bold","color":"#000000"},"encoding":{"text":{"field":"score","type":"quantitative","format":"d"},"x":{"datum":1750,"type":"quantitative","axis":{"labels":false,"title":null}}}}
]},

{"width":220,"height":67,"data":{"name":"rhm"},"title":{"text":"Metastasis","offset":-15},"mark":{"type":"line","color":"#3b4c8c","strokeWidth":1,"clip":true},
"encoding":{"x":{"field":"x","type":"quantitative","scale":{"domain":[528,1600],"nice":false,"zero":false},"axis":{"values":[600,800,1000,1200,1400,1600],"format":"d","labelOverlap":false,"labelFlush":false,"title":"Raman shift (cm⁻¹)"}},
"y":{"field":"Ma","type":"quantitative","scale":{"domain":[865,4850],"nice":false,"zero":false},"axis":{"values":[2000,4000],"format":"d","title":["Intensity","(a.u.)"]}}}},
{"width":220,"height":67,"data":{"name":"g5"},"title":{"text":"Metastasis","offset":-16},"mark":{"type":"line","color":"#3b4c8c","strokeWidth":1,"clip":true},
"encoding":{"x":{"field":"x","type":"quantitative","scale":{"domain":[528,1600],"nice":false,"zero":false},"axis":{"values":[600,800,1000,1200,1400,1600],"format":"d","labelOverlap":false,"labelFlush":false,"title":"Raman shift (cm⁻¹)"}},
"y":{"field":"Mb","type":"quantitative","scale":{"domain":[-2.8,109],"nice":false,"zero":false},"axis":{"values":[0,50,100],"format":"d","title":null}}}},
{"width":220,"height":67,"data":{"name":"g5"},"title":{"text":"Metastasis","offset":-16},"mark":{"type":"line","color":"#3b4c8c","strokeWidth":1,"clip":true},
"encoding":{"x":{"field":"x","type":"quantitative","scale":{"domain":[528,1600],"nice":false,"zero":false},"axis":{"values":[600,800,1000,1200,1400,1600],"format":"d","labelOverlap":false,"labelFlush":false,"title":"Raman shift (cm⁻¹)"}},
"y":{"field":"Mb","type":"quantitative","scale":{"domain":[-2.8,109],"nice":false,"zero":false},"axis":{"values":[0,50,100],"format":"d","title":null}}}},
{"width":220,"height":67,"data":{"name":"g10"},"title":{"text":"Metastasis","offset":-18},
"layer":[
{"mark":{"type":"line","color":"#3b4c8c","strokeWidth":1,"clip":true},
"encoding":{"x":{"field":"x","type":"quantitative","scale":{"domain":[528,1600],"nice":false,"zero":false},"axis":{"values":[600,800,1000,1200,1400,1600],"format":"d","labelOverlap":false,"labelFlush":false,"title":"Raman shift (cm⁻¹)"}},
"y":{"field":"Md","type":"quantitative","scale":{"domain":[-5.27,5.54],"nice":false,"zero":false},"axis":{"values":[-5,0,5],"format":"d","title":null}}}},
{"data":{"values":[{"score":79}]},"mark":{"type":"text","fontSize":14,"fontWeight":"bold","color":"#000000"},"encoding":{"text":{"field":"score","type":"quantitative","format":"d"},"x":{"datum":1750,"type":"quantitative","axis":{"values":[600,800,1000,1200,1400,1600],"format":"d","labelOverlap":false,"labelFlush":false,"title":"Raman shift (cm⁻¹)"}}}}
]}
],
"columns":4,
"spacing":{"row":26.5,"column":73},
"bounds":"flush",
"align":"each",
"config":{
"view":{"stroke":null},
"font":"Liberation Sans",
"locale":{"number":{"decimal":".","thousands":"","grouping":[3],"currency":["$",""],"minus":"-"}},
"axis":{"grid":false,"ticks":false,"domainColor":"#555555","domainWidth":1,"labelFont":"Liberation Sans","labelFontSize":13,"labelColor":"#262626","labelPadding":5,"titleFont":"Liberation Sans","titleFontSize":14,"titleFontWeight":"normal","titleColor":"#262626"},
"axisX":{"labelPadding":7,"titlePadding":10},
"axisY":{"titlePadding":4,"titleLineHeight":17},
"title":{"anchor":"end","frame":"group","fontSize":12,"fontWeight":"normal","color":"#000000","font":"Liberation Sans"}
}
}
